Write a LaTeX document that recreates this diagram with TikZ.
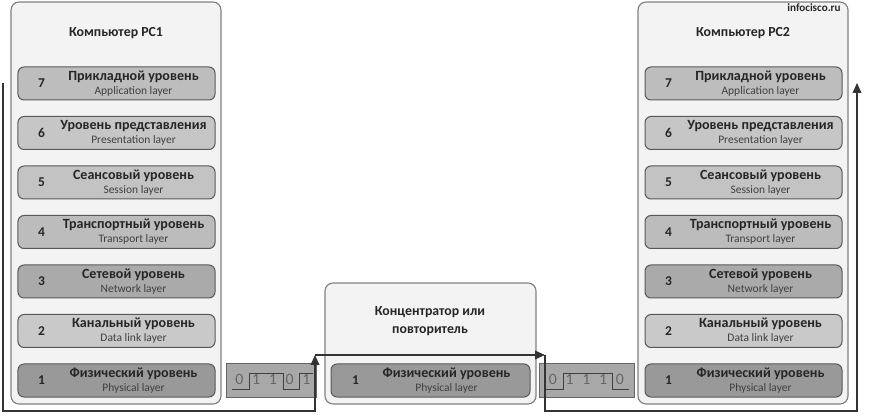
\documentclass[tikz,border=0pt]{standalone}
\usepackage{fontspec}
\setmainfont{Carlito}
\usetikzlibrary{positioning,arrows.meta,calc}

\definecolor{devfill}{HTML}{F3F3F3}
\definecolor{sigfill}{HTML}{A8A8A8}
\definecolor{lay7}{HTML}{BDBDBD}
\definecolor{lay6}{HTML}{C6C6C6}
\definecolor{lay5}{HTML}{C3C3C3}
\definecolor{lay4}{HTML}{BCBCBC}
\definecolor{lay3}{HTML}{AAAAAA}
\definecolor{lay2}{HTML}{C9C9C9}
\definecolor{lay1}{HTML}{999999}

\begin{document}
\begin{tikzpicture}[
  x=0.3mm, y=-0.3mm,
  >={Triangle[length=3mm,width=2.6mm]},
  every node/.style={align=center, text=black!85},
  device/.style={draw=black!50, fill=devfill, rounded corners=2.4mm,
                 line width=0.35mm, minimum width=63mm},
  layer/.style={draw=black!65, fill=#1, rounded corners=1.8mm,
                minimum width=59.1mm, minimum height=9.9mm, line width=0.3mm},
  laynum/.style={font=\bfseries\fontsize{11.5}{13}\selectfont},
  laytext/.style={font=\fontsize{9.8}{12}\selectfont, inner sep=0pt},
  title/.style={font=\bfseries\fontsize{11.8}{16}\selectfont},
  sigbox/.style={draw=black!60, fill=sigfill, minimum height=9.9mm,
                 line width=0.3mm},
  bit/.style={font=\fontsize{13.5}{14}\selectfont, text=black!60, inner sep=0pt},
  wave/.style={black!75, line width=0.25mm},
  link/.style={black!80, line width=0.45mm},
]
\useasboundingbox (0,0) rectangle (869,420);

% --- Devices ---
\node[device, minimum height=120.6mm] (pc1) at (116,203) {};
\node[device, minimum height=120.6mm] (pc2) at (743,203) {};
\node[device, minimum width=63.3mm, minimum height=36.3mm] (hub) at (430.5,343.5) {};

\node[title] (pc1title) at (116,33) {Компьютер PC1};
\node[title] (pc2title) at (743,33) {Компьютер PC2};
\node[title] (hubtitle) at (430,321) {Концентратор или\\повторитель};
\node[font=\bfseries\fontsize{9.5}{11}\selectfont] (site) at (814,8) {infocisco.ru};

% --- OSI stacks of both computers ---
\foreach \pc/\cx in {a/116.5, b/743.5} {
  \foreach \n/\ru/\en in {7/{Прикладной уровень}/{Application layer},
                          6/{Уровень представления}/{Presentation layer},
                          5/{Сеансовый уровень}/{Session layer},
                          4/{Транспортный уровень}/{Transport layer},
                          3/{Сетевой уровень}/{Network layer},
                          2/{Канальный уровень}/{Data link layer},
                          1/{Физический уровень}/{Physical layer}} {
    \node[layer=lay\n] (\pc\n) at (\cx, {83.5+49.5*(7-\n)}) {};
    \node[laynum] at ($(\pc\n.west)+(24,0)$) {\n};
    \node[laytext] at ($(\pc\n.center)+(17,0)$)
      {\textbf{\fontsize{12}{14}\selectfont\ru}\\ \textcolor{black!75}{\en}};
  }
}

% --- Hub physical layer ---
\node[layer=lay1, minimum width=59.7mm] (h1) at (430.5,380.5) {};
\node[laynum] at ($(h1.west)+(25,0)$) {1};
\node[laytext] at ($(h1.center)+(16,0)$)
  {\textbf{\fontsize{12}{14}\selectfont Физический уровень}\\ \textcolor{black!75}{Physical layer}};

% --- Signals on the wire ---
\node[sigbox, minimum width=27mm] (sig1) at (271,380.5) {};
\node[sigbox, minimum width=28.5mm] (sig2) at (586.5,380.5) {};
\foreach \b [count=\i] in {0,1,1,0,1}
  \node[bit] (bitA\i) at ({222.5+16.8*\i},379) {\b};
\foreach \b [count=\i] in {0,1,1,1,0}
  \node[bit] (bitB\i) at ({536+16.8*\i},379) {\b};
\draw[wave] (232,389) -- (249,389) -- (249,373) -- (283,373)
  -- (283,389) -- (299,389) -- (299,373) -- (313,373);
\draw[wave] (545,389) -- (563,389) -- (563,373) -- (612,373)
  -- (612,389) -- (629,389);

% --- Data path ---
\coordinate (feedA) at (3,83);
\coordinate (floor) at (0,411);
\coordinate (hubin) at (315,355);
\coordinate (hubout) at (545,355);
\coordinate (feedB) at (857,83);
\draw[link,->] (feedA) -- (feedA |- floor) -| (hubin);
\draw[link,->] (hubin) -- (hubout);
\draw[link,->] (hubout) -- (hubout |- floor) -| (feedB);

\end{tikzpicture}
\end{document}
